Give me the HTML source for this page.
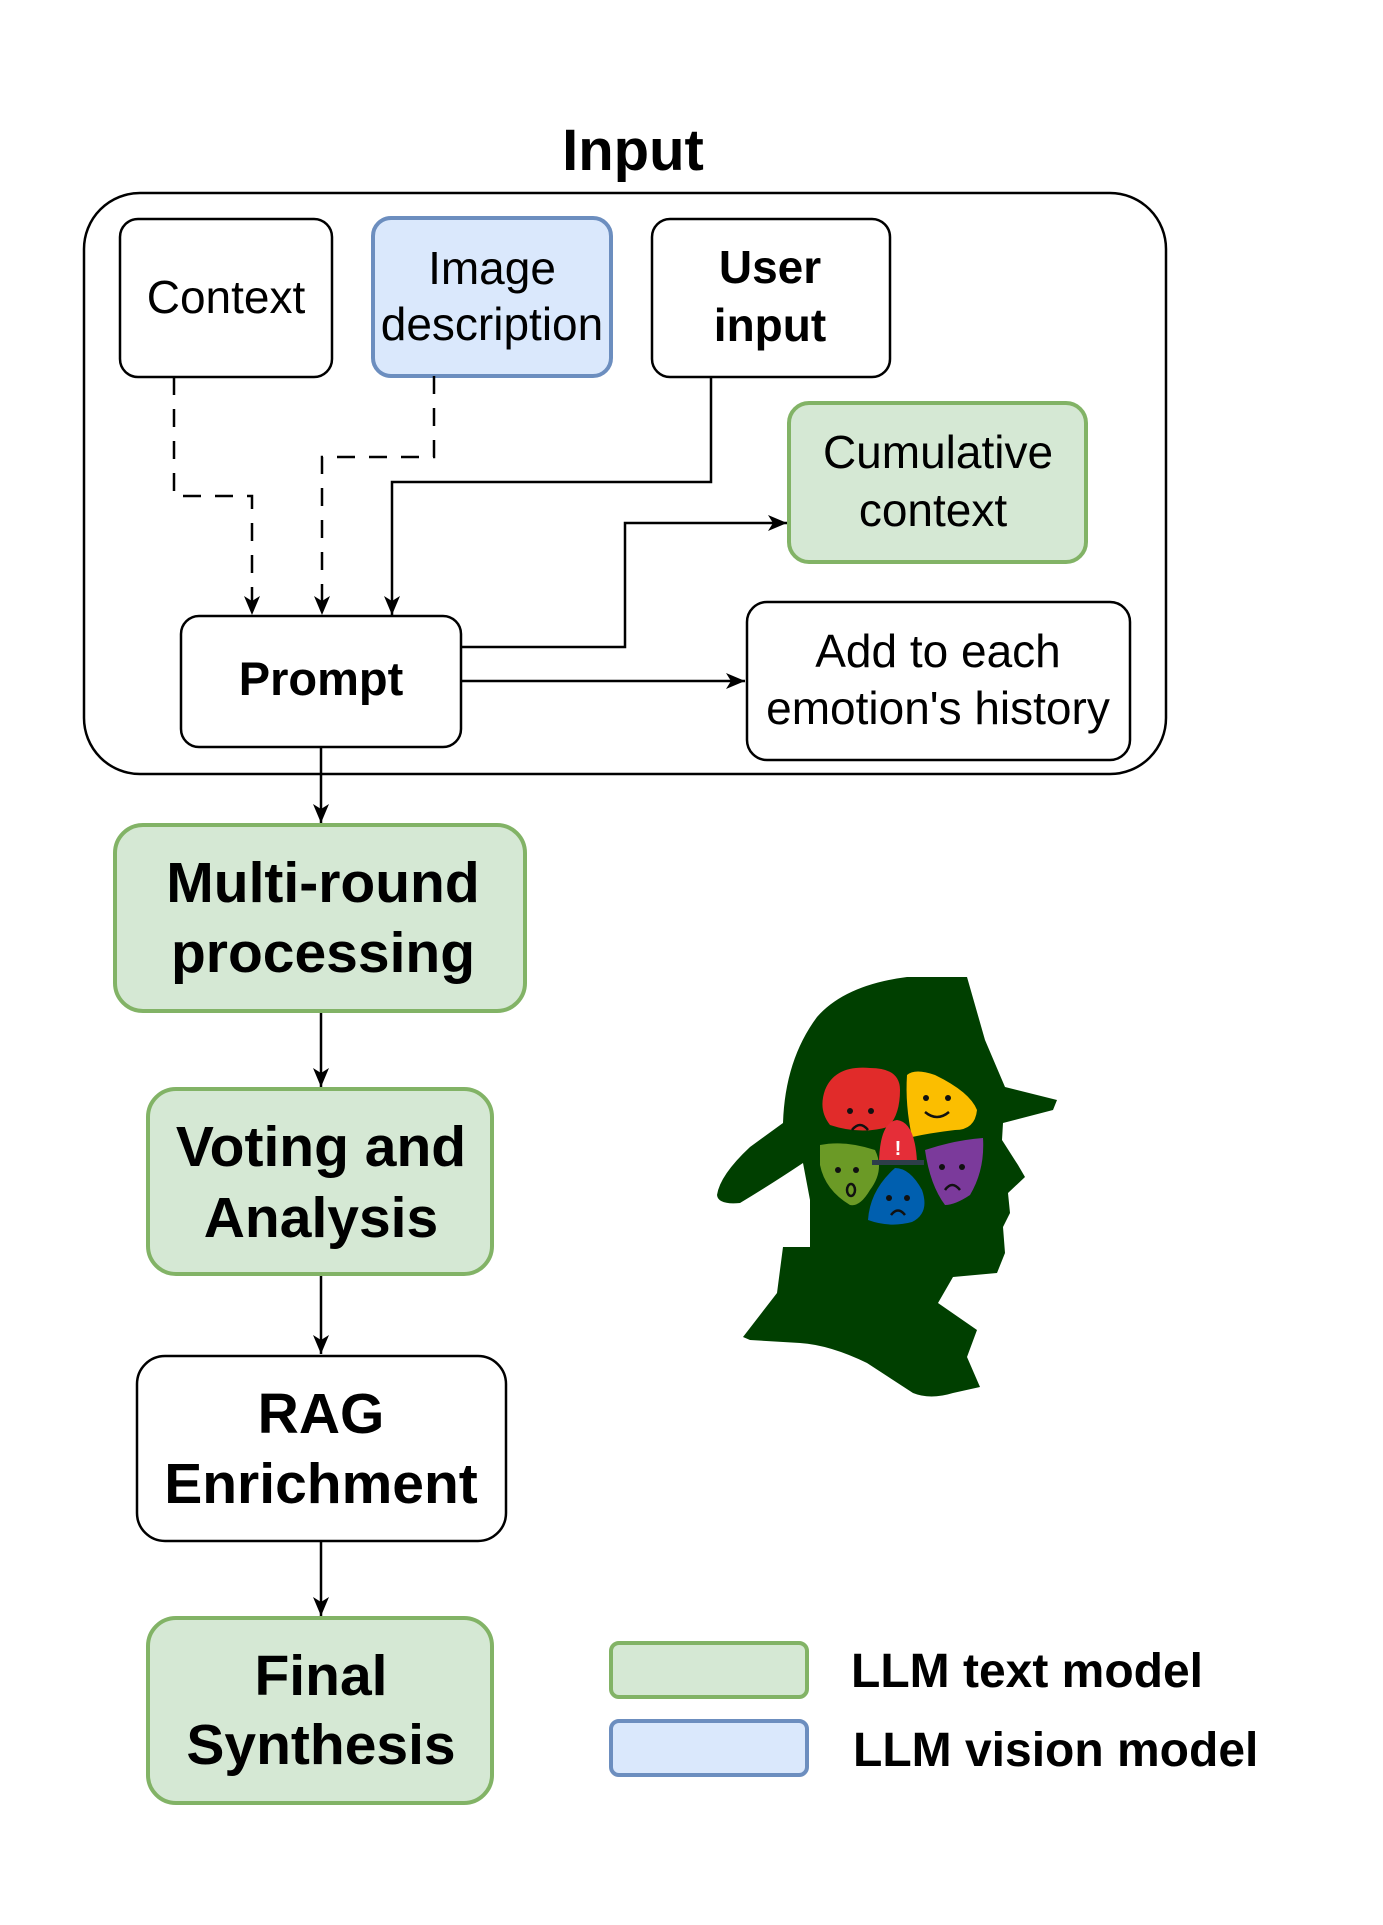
<!DOCTYPE html>
<html><head><meta charset="utf-8"><style>
html,body{margin:0;padding:0;background:#fff;}
svg{display:block;}
text{font-family:"Liberation Sans",sans-serif;fill:#000;}
</style></head><body>
<svg width="1383" height="1925" viewBox="0 0 1383 1925" xmlns="http://www.w3.org/2000/svg">
<defs>
<marker id="a" viewBox="0 0 20 20" refX="19" refY="10" markerWidth="20" markerHeight="20" markerUnits="userSpaceOnUse" orient="auto">
<path d="M0,2 L19,10 L0,18 L5,10 Z" fill="#000"/>
</marker>
</defs>
<text x="633" y="170" font-size="58" font-weight="bold" text-anchor="middle">Input</text>
<rect x="84" y="193" width="1082" height="581" rx="56" fill="none" stroke="#000" stroke-width="2.5"/>

<rect x="120" y="219" width="212" height="158" rx="18" fill="#fff" stroke="#000" stroke-width="2.5"/>
<text x="226" y="313" font-size="46" text-anchor="middle">Context</text>
<rect x="373" y="218" width="238" height="158" rx="18" fill="#dae8fc" stroke="#6c8ebf" stroke-width="4"/>
<text x="492" y="284" font-size="46" text-anchor="middle">Image</text>
<text x="492" y="340" font-size="46" text-anchor="middle">description</text>
<rect x="652" y="219" width="238" height="158" rx="18" fill="#fff" stroke="#000" stroke-width="2.5"/>
<text x="770" y="283" font-size="46" font-weight="bold" text-anchor="middle">User</text>
<text x="770" y="341" font-size="46" font-weight="bold" text-anchor="middle">input</text>
<rect x="789" y="403" width="297" height="159" rx="20" fill="#d5e8d4" stroke="#82b366" stroke-width="4"/>
<text x="938" y="468" font-size="46" text-anchor="middle">Cumulative</text>
<text x="933" y="526" font-size="46" text-anchor="middle">context</text>
<rect x="181" y="616" width="280" height="131" rx="18" fill="#fff" stroke="#000" stroke-width="2.5"/>
<text x="321" y="695" font-size="47" font-weight="bold" text-anchor="middle">Prompt</text>
<rect x="747" y="602" width="383" height="158" rx="20" fill="#fff" stroke="#000" stroke-width="2.5"/>
<text x="938" y="667" font-size="46" text-anchor="middle">Add to each</text>
<text x="938" y="724" font-size="46" text-anchor="middle">emotion's history</text>

<g fill="none" stroke="#000" stroke-width="2.5">
<path d="M174,377 V496 H252 V615" stroke-dasharray="18,14" marker-end="url(#a)"/>
<path d="M434,376 V457 H322 V615" stroke-dasharray="18,14" marker-end="url(#a)"/>
<path d="M711,377 V482 H392 V615" marker-end="url(#a)"/>
<path d="M461,647 H625 V523 H787" marker-end="url(#a)"/>
<path d="M461,681 H745" marker-end="url(#a)"/>
<path d="M321,747 V823" marker-end="url(#a)"/>
<path d="M321,1011 V1087" marker-end="url(#a)"/>
<path d="M321,1274 V1354" marker-end="url(#a)"/>
<path d="M321,1541 V1616" marker-end="url(#a)"/>
</g>

<rect x="115" y="825" width="410" height="186" rx="28" fill="#d5e8d4" stroke="#82b366" stroke-width="4"/>
<text x="323" y="902" font-size="57" font-weight="bold" text-anchor="middle">Multi-round</text>
<text x="323" y="972" font-size="57" font-weight="bold" text-anchor="middle">processing</text>
<rect x="148" y="1089" width="344" height="185" rx="28" fill="#d5e8d4" stroke="#82b366" stroke-width="4"/>
<text x="321" y="1166" font-size="57" font-weight="bold" text-anchor="middle">Voting and</text>
<text x="321" y="1237" font-size="57" font-weight="bold" text-anchor="middle">Analysis</text>
<rect x="137" y="1356" width="369" height="185" rx="28" fill="#fff" stroke="#000" stroke-width="2.5"/>
<text x="321" y="1433" font-size="57" font-weight="bold" text-anchor="middle">RAG</text>
<text x="321" y="1503" font-size="57" font-weight="bold" text-anchor="middle">Enrichment</text>
<rect x="148" y="1618" width="344" height="185" rx="28" fill="#d5e8d4" stroke="#82b366" stroke-width="4"/>
<text x="321" y="1695" font-size="57" font-weight="bold" text-anchor="middle">Final</text>
<text x="321" y="1764" font-size="57" font-weight="bold" text-anchor="middle">Synthesis</text>

<rect x="611" y="1643" width="196" height="54" rx="8" fill="#d5e8d4" stroke="#82b366" stroke-width="4"/>
<rect x="611" y="1721" width="196" height="54" rx="8" fill="#dae8fc" stroke="#6c8ebf" stroke-width="4"/>
<text x="851" y="1687" font-size="48" font-weight="bold">LLM text model</text>
<text x="853" y="1766" font-size="48" font-weight="bold">LLM vision model</text>

<path fill="#003f00" d="M967,977 L985,1040 L1005,1087 L1057,1100 L1053,1110 L1003,1123 L1002,1140 L1018,1165 L1025,1177 L1008,1193 L1010,1213 L1003,1227 L1005,1253 L997,1273 L953,1277 L938,1303 L977,1330 L967,1357 L980,1387 L953,1393 Q930,1400 913,1393 L867,1363 Q830,1345 800,1343 L750,1340 L743,1337 L777,1293 L783,1247 L810,1247 L810,1200 L803,1163 Q770,1185 740,1203 Q718,1205 717,1195 Q720,1175 750,1147 L783,1123 Q785,1060 817,1017 Q845,985 907,977 Z"/>
<path fill="#e12b2a" d="M825,1090 Q835,1065 870,1068 Q900,1068 900,1090 Q900,1115 888,1127 Q860,1135 830,1125 Q818,1110 825,1090 Z"/>
<path fill="#fbbe00" d="M907,1075 Q915,1068 935,1075 Q970,1092 977,1110 Q975,1130 955,1130 Q930,1133 912,1137 Q905,1105 907,1075 Z"/>
<path fill="#6b9a26" d="M820,1145 Q845,1140 875,1150 Q885,1170 870,1190 Q860,1207 850,1205 Q825,1190 820,1165 Z"/>
<path fill="#005faf" d="M895,1168 Q910,1168 922,1190 Q930,1213 912,1222 Q890,1228 868,1220 Q870,1190 895,1168 Z"/>
<path fill="#7b3a9b" d="M925,1150 Q955,1140 983,1138 Q985,1170 970,1195 Q955,1205 945,1205 Q930,1185 925,1150 Z"/>
<path fill="#e52e38" d="M879,1162 Q880,1122 897,1120 Q915,1122 917,1162 Z"/>
<rect x="872" y="1160" width="52" height="5" fill="#2d3e4a"/>
<text x="898" y="1155" font-size="20" font-weight="bold" text-anchor="middle" style="fill:#fff">!</text>
<g fill="#111"><circle cx="850" cy="1111" r="3"/><circle cx="871" cy="1111" r="3"/><circle cx="926" cy="1098" r="3"/><circle cx="948" cy="1098" r="3"/><circle cx="942" cy="1167" r="3"/><circle cx="962" cy="1167" r="3"/><circle cx="889" cy="1198" r="3"/><circle cx="907" cy="1198" r="3"/><circle cx="838" cy="1170" r="3"/><circle cx="856" cy="1170" r="3"/></g>
<g fill="none" stroke="#111" stroke-width="2.5"><path d="M852,1130 Q860,1120 868,1130"/><path d="M925,1112 Q937,1122 949,1112"/><path d="M945,1190 Q952,1180 960,1190"/><path d="M891,1215 Q898,1206 905,1215"/><ellipse cx="851" cy="1190" rx="4" ry="6"/></g>
</svg>
</body></html>
